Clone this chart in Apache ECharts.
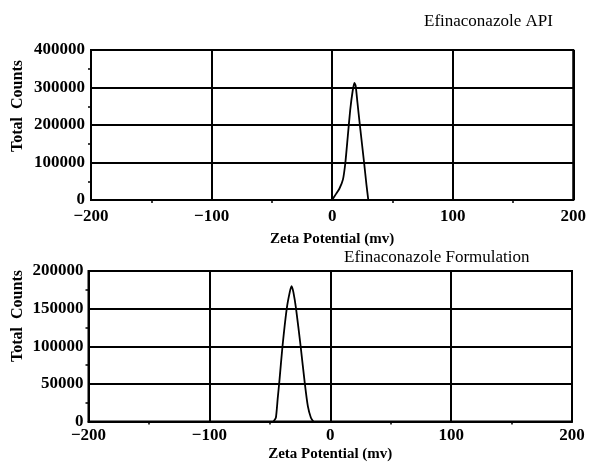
<!DOCTYPE html>
<html>
<head>
<meta charset="utf-8">
<script src="https://cdn.jsdelivr.net/npm/echarts@6/dist/echarts.min.js"></script>
<style>
  html, body { margin: 0; padding: 0; background: #fff; }
  #main { width: 589px; height: 464px; }
</style>
</head>
<body>
<div id="main"></div>
<script>
var myChart = echarts.init(document.getElementById('main'));

// Efinaconazole API distribution
var apiZeta   = [0, 3, 6, 9, 11, 13, 15, 17, 18.5, 19.5, 21, 23, 26.5, 28.5, 30];
var apiCounts = [0, 15000, 30000, 55000, 100000, 170000, 240000, 290000, 312000, 305000, 260000, 200000, 100000, 40000, 0];

// Efinaconazole Formulation distribution
var formZeta   = [-47, -45, -43.5, -42, -39.5, -36, -33.5, -32, -30.5, -28.3, -24.5, -21, -18.5, -16, -14];
var formCounts = [0, 5000, 30000, 55000, 100000, 150000, 172000, 180000, 172000, 150000, 100000, 50000, 20000, 5000, 0];

var xTicks = [-200, -100, 0, 100, 200];

var pairs = function (xs, ys) {
    var res = [];
    for (var i = 0; i < xs.length; i++) {
        res.push([xs[i], ys[i]]);
    }
    return res;
};

var font = 'Liberation Serif';

var xAxisBase = function (gridIndex, nameGap, labelMargin) {
    return {
        gridIndex: gridIndex,
        type: 'value',
        min: xTicks[0],
        max: xTicks[xTicks.length - 1],
        interval: 100,
        name: 'Zeta Potential (mv)',
        nameLocation: 'middle',
        nameGap: nameGap,
        nameTextStyle: { fontFamily: font, fontWeight: 'bold', fontSize: 15, color: '#000' },
        axisLine: { onZero: false, lineStyle: { color: '#000', width: 2 } },
        axisTick: { show: false },
        minorTick: { show: true, splitNumber: 2, length: 3, lineStyle: { color: '#000', width: 1.5 } },
        axisLabel: {
            margin: labelMargin,
            fontFamily: font, fontWeight: 'bold', fontSize: 17, color: '#000',
            formatter: function (v) { return v < 0 ? '\u2212' + (-v) : String(v); }
        },
        splitLine: { show: true, lineStyle: { color: '#000', width: 2 } }
    };
};

var yAxisBase = function (gridIndex, max, interval, labelMargin) {
    return {
        gridIndex: gridIndex,
        type: 'value',
        min: 0,
        max: max,
        interval: interval,
        axisLine: { show: true, onZero: false, lineStyle: { color: '#000', width: 2 } },
        axisTick: { show: false },
        minorTick: { show: true, splitNumber: 2, length: 3, lineStyle: { color: '#000', width: 1.5 } },
        axisLabel: {
            margin: labelMargin,
            fontFamily: font, fontWeight: 'bold', fontSize: 17, color: '#000',
            formatter: function (v) { return String(v); }
        },
        splitLine: { show: true, lineStyle: { color: '#000', width: 2 } }
    };
};

option = {
    backgroundColor: '#fff',
    animation: false,
    title: [
        {
            text: 'Efinaconazole API',
            left: 424, top: 13, padding: 0,
            textStyle: { fontFamily: font, fontWeight: 'normal', fontSize: 17, color: '#000' }
        },
        {
            text: 'Efinaconazole Formulation',
            left: 344, top: 249, padding: 0,
            textStyle: { fontFamily: font, fontWeight: 'normal', fontSize: 17, color: '#000' }
        }
    ],
    graphic: [
        {
            type: 'text', x: 18, y: 106, rotation: Math.PI / 2,
            style: { text: 'Total  Counts', font: 'bold 16px "Liberation Serif"', fill: '#000',
                     align: 'center', verticalAlign: 'middle' }
        },
        {
            type: 'text', x: 18, y: 316, rotation: Math.PI / 2,
            style: { text: 'Total  Counts', font: 'bold 16px "Liberation Serif"', fill: '#000',
                     align: 'center', verticalAlign: 'middle' }
        }
    ],
    grid: [
        { left: 91, top: 50, width: 484, height: 150, show: true, borderColor: '#000', borderWidth: 2 },
        { left: 88.5, top: 271, width: 483.5, height: 150.5, show: true, borderColor: '#000', borderWidth: 2 }
    ],
    xAxis: [
        xAxisBase(0, 32, 8),
        xAxisBase(1, 25, 6)
    ],
    yAxis: [
        yAxisBase(0, 400000, 100000, 6),
        yAxisBase(1, 200000, 50000, 5)
    ],
    series: [
        {
            name: 'Efinaconazole API',
            type: 'line',
            xAxisIndex: 0, yAxisIndex: 0,
            data: pairs(apiZeta, apiCounts),
            showSymbol: false,
            smooth: 0.2,
            lineStyle: { color: '#000', width: 1.8 }
        },
        {
            name: 'Efinaconazole Formulation',
            type: 'line',
            xAxisIndex: 1, yAxisIndex: 1,
            data: pairs(formZeta, formCounts),
            showSymbol: false,
            smooth: 0.2,
            lineStyle: { color: '#000', width: 1.8 }
        }
    ]
};

myChart.setOption(option);
</script>
</body>
</html>
